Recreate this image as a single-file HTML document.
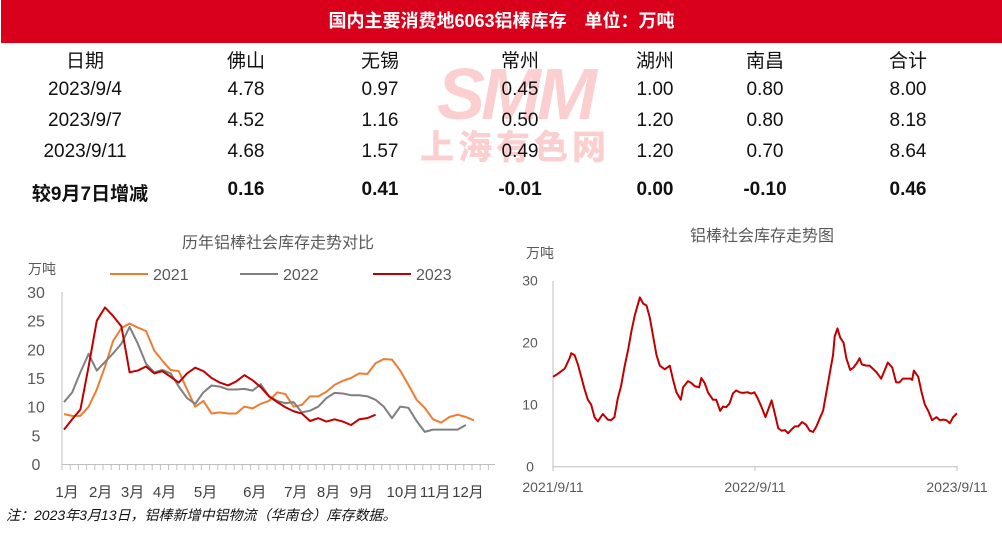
<!DOCTYPE html>
<html><head><meta charset="utf-8">
<style>
body{margin:0;width:1002px;height:538px;background:#fff;overflow:hidden;position:relative;font-family:"Liberation Sans","Noto Sans CJK SC",sans-serif;}
.abs{position:absolute;}
#hdr{left:1px;top:0;width:1001px;height:43px;background:#d9001b;color:#fff;font-weight:bold;font-size:18px;text-align:center;line-height:43px;}
.cell{position:absolute;font-size:19px;color:#111;transform:translateX(-50%);white-space:nowrap;}
.b{font-weight:bold;}
svg text{font-family:"Liberation Sans","Noto Sans CJK SC",sans-serif;}
</style></head><body>
<div id="hdr" class="abs">国内主要消费地6063铝棒库存　单位：万吨</div>
<div class="abs" style="left:395px;top:60px;width:240px;height:100px;color:#fbcfcf;">
 <div style="font-size:72px;font-weight:900;font-style:italic;line-height:70px;letter-spacing:-4px;text-align:center;">SMM</div>
 <div style="font-size:34px;font-weight:900;line-height:36px;text-align:center;letter-spacing:4px;">上海有色网</div>
</div>
<div id="tbl"></div>
<svg class="abs" style="left:0;top:0" width="1002" height="538" id="charts"></svg>
<div class="abs" style="left:6px;top:505px;font-size:14px;font-style:italic;color:#111;">注：2023年3月13日，铝棒新增中铝物流（华南仓）库存数据。</div>
<script>
// table
const cols=["日期","佛山","无锡","常州","湖州","南昌","合计"];
const colX=[85,246,380,520,655,765,908];
const rows=[["2023/9/4","4.78","0.97","0.45","1.00","0.80","8.00"],["2023/9/7","4.52","1.16","0.50","1.20","0.80","8.18"],["2023/9/11","4.68","1.57","0.49","1.20","0.70","8.64"]];
const diffRow=["较9月7日增减","0.16","0.41","-0.01","0.00","-0.10","0.46"];
const tbl=document.getElementById('tbl');
function cell(t,x,y,bold,name){const d=document.createElement('div');d.className='cell'+(bold?' b':'');d.textContent=t;d.style.left=x+'px';d.style.top=y+'px';


tbl.appendChild(d);}
cols.forEach((c,i)=>cell(c,colX[i],46,false,'column-header'));
rows.forEach((r,j)=>r.forEach((v,i)=>cell(v,colX[i],79+j*31,false,'table-cell')));
diffRow.forEach((v,i)=>cell(v,i==0?90:colX[i],179,true,'change-cell'));

// left chart data
const monthLabels=["1月","2月","3月","4月","5月","6月","7月","8月","9月","10月","11月","12月"];
const monthWeeks=[0,4.1,8,11.9,16.9,22.9,27.9,31.9,35.9,40.9,44.9,48.9];
const yTicks=[0,5,10,15,20,25,30];
const s2021=[8.7,8.4,8.4,10,13,17,21.5,23.7,24.5,23.8,23.2,19.8,18,16.4,16.2,13,10,11,8.8,9,8.8,8.8,10,9.7,10.5,11,12.5,12.2,10,10.3,11.8,11.8,12.6,13.8,14.5,15,15.8,15.7,17.6,18.3,18.2,16.3,13.8,11.2,9.8,7.8,7.2,8.2,8.6,8.2,7.6];
const s2022=[10.8,12.5,16,19.2,16.3,17.8,19.3,21,23.9,21,17.5,16,16.4,15.8,13.5,11.5,10.5,12.5,13.7,13.5,13,13,13.1,12.8,13.9,11.8,11,10.6,10.8,9,9.3,10,11.5,12.4,12.3,12,12,11.8,11.2,10,8,10,9.8,7.5,5.6,6,6,6,6,6.8];
const s2023=[6,7.8,9.5,17,25,27.3,25.8,24,16,16.3,17,15.8,16.2,15.2,14.2,15.8,16.8,16.2,15,14.2,13.7,14.4,15.5,14.6,13.4,11.8,10.8,9.9,9.2,8.8,7.5,8,7.4,7.8,7.4,6.8,7.8,8,8.6];
// right chart data
const rDays=[0,9,18,21,30,33,39,45,51,57,63,69,75,81,90,99,105,111,117,123,129,136,142,148,157,163,169,175,181,187,193,202,211,217,223,231,235,244,250,256,264,268,274,280,289,295,302,307,313,319,325,331,337,343,352,358,364,370,376,384,388,395,401,407,413,419,425,431,437,443,450,457,464,470,476,482,488,494,500,506,509,514,519,525,530,537,543,549,554,558,566,572,578,584,593,599,605,613,620,626,632,638,646,649,652,660,666,672,678,685,693,699,705,711,717,723,730];
const rVals=[14.5,15,15.6,15.8,17.5,18.3,18,16.5,14.5,12.5,10.8,10,8,7.3,8.5,7.6,7.5,8,11,13,16,19,22,24.5,27.3,26.3,26,24,21,18,16.3,15.7,16.3,14,12,10.8,12.8,13.8,13.5,13,12.8,14.3,13.5,12,10.8,10.8,9,9.7,9.6,10.2,11.8,12.3,12,11.9,12,11.8,12,11,9.8,8,9,10.7,8.5,6.2,5.8,5.9,5.4,6,6.5,6.5,7.2,6.8,5.8,5.6,6.5,7.8,9,12,15,18,21,22.3,20.8,20,17.5,15.6,16,16.7,17.5,16.5,16.3,16.3,15.8,15.3,14.2,15.5,16.8,16,13.6,13.6,14.2,14.2,14.2,14,15.5,14.5,12,10,9,7.5,8,7.5,7.6,7.5,7,8,8.6];
const rTickLabels=["2021/9/11","2022/9/11","2023/9/11"];
const rTickDays=[0,365,730];
const rYTicks=[0,10,20,30];

const svg=document.getElementById('charts');const NS='http://www.w3.org/2000/svg';
function el(tag,attrs,parent){const e=document.createElementNS(NS,tag);for(const k in attrs)e.setAttribute(k,attrs[k]);(parent||svg).appendChild(e);return e;}
function txt(t,x,y,size,fill,anchor,name){const e=el('text',{x:x,y:y,'font-size':size,fill:fill,'text-anchor':anchor||'middle'});e.textContent=t;


return e;}

// left chart
const lx=w=>64+w*8.2, ly=v=>464-v*(172/30);
txt('历年铝棒社会库存走势对比',278,248,16,'#595959','middle','left-chart-title');
txt('万吨',42,274,14,'#595959','middle','left-y-axis-unit');
const leg=[['2021','#ed7d31'],['2022','#7f7f7f'],['2023','#c00000']];
const legX=[110,240,373];
leg.forEach((l,i)=>{const g=el('g',{});


el('line',{x1:legX[i],y1:274,x2:legX[i]+38,y2:274,stroke:l[1],'stroke-width':2},g);
const t=el('text',{x:legX[i]+43,y:280,'font-size':16,fill:'#595959'},g);t.textContent=l[0];});
yTicks.forEach(v=>txt(String(v),36,ly(v)+6,16,'#595959','middle','left-y-tick'));
el('line',{x1:62,y1:292,x2:62,y2:465,stroke:'#bfbfbf'});
el('line',{x1:62,y1:464.5,x2:495,y2:464.5,stroke:'#bfbfbf'});
for(let w=0;w<53;w++){el('line',{x1:lx(w)-2,y1:464,x2:lx(w)-2,y2:470,stroke:'#bfbfbf'});}
monthLabels.forEach((m,i)=>txt(m,lx(monthWeeks[i])+3,497,15,'#404040','middle','left-x-tick'));
function series(arr,color,name){const p=el('polyline',{points:arr.map((v,i)=>lx(i)+','+ly(v)).join(' '),fill:'none',stroke:color,'stroke-width':2,'stroke-linejoin':'round'});

}
series(s2021,'#ed7d31','line-2021');
series(s2022,'#7f7f7f','line-2022');
series(s2023,'#c00000','line-2023');

// right chart
const rx=d=>553+d*(404/730), ry=v=>466.7-v*6.2;
txt('铝棒社会库存走势图',762,241,16,'#595959','middle','right-chart-title');
txt('万吨',540,258,14,'#595959','middle','right-y-axis-unit');
rYTicks.forEach(v=>txt(String(v),530,ry(v)+5,14,'#595959','middle','right-y-tick'));
el('line',{x1:553,y1:281,x2:553,y2:467,stroke:'#bfbfbf'});
el('line',{x1:553,y1:466.7,x2:957,y2:466.7,stroke:'#bfbfbf'});
rTickDays.forEach((d,i)=>{el('line',{x1:rx(d),y1:466,x2:rx(d),y2:471,stroke:'#bfbfbf'});txt(rTickLabels[i],i==2?957:rx(d),492,14,'#595959','middle','right-x-tick');});
const rp=el('polyline',{points:rDays.map((d,i)=>rx(d)+','+ry(rVals[i])).join(' '),fill:'none',stroke:'#c00000','stroke-width':2,'stroke-linejoin':'round'});


</script>
</body></html>
